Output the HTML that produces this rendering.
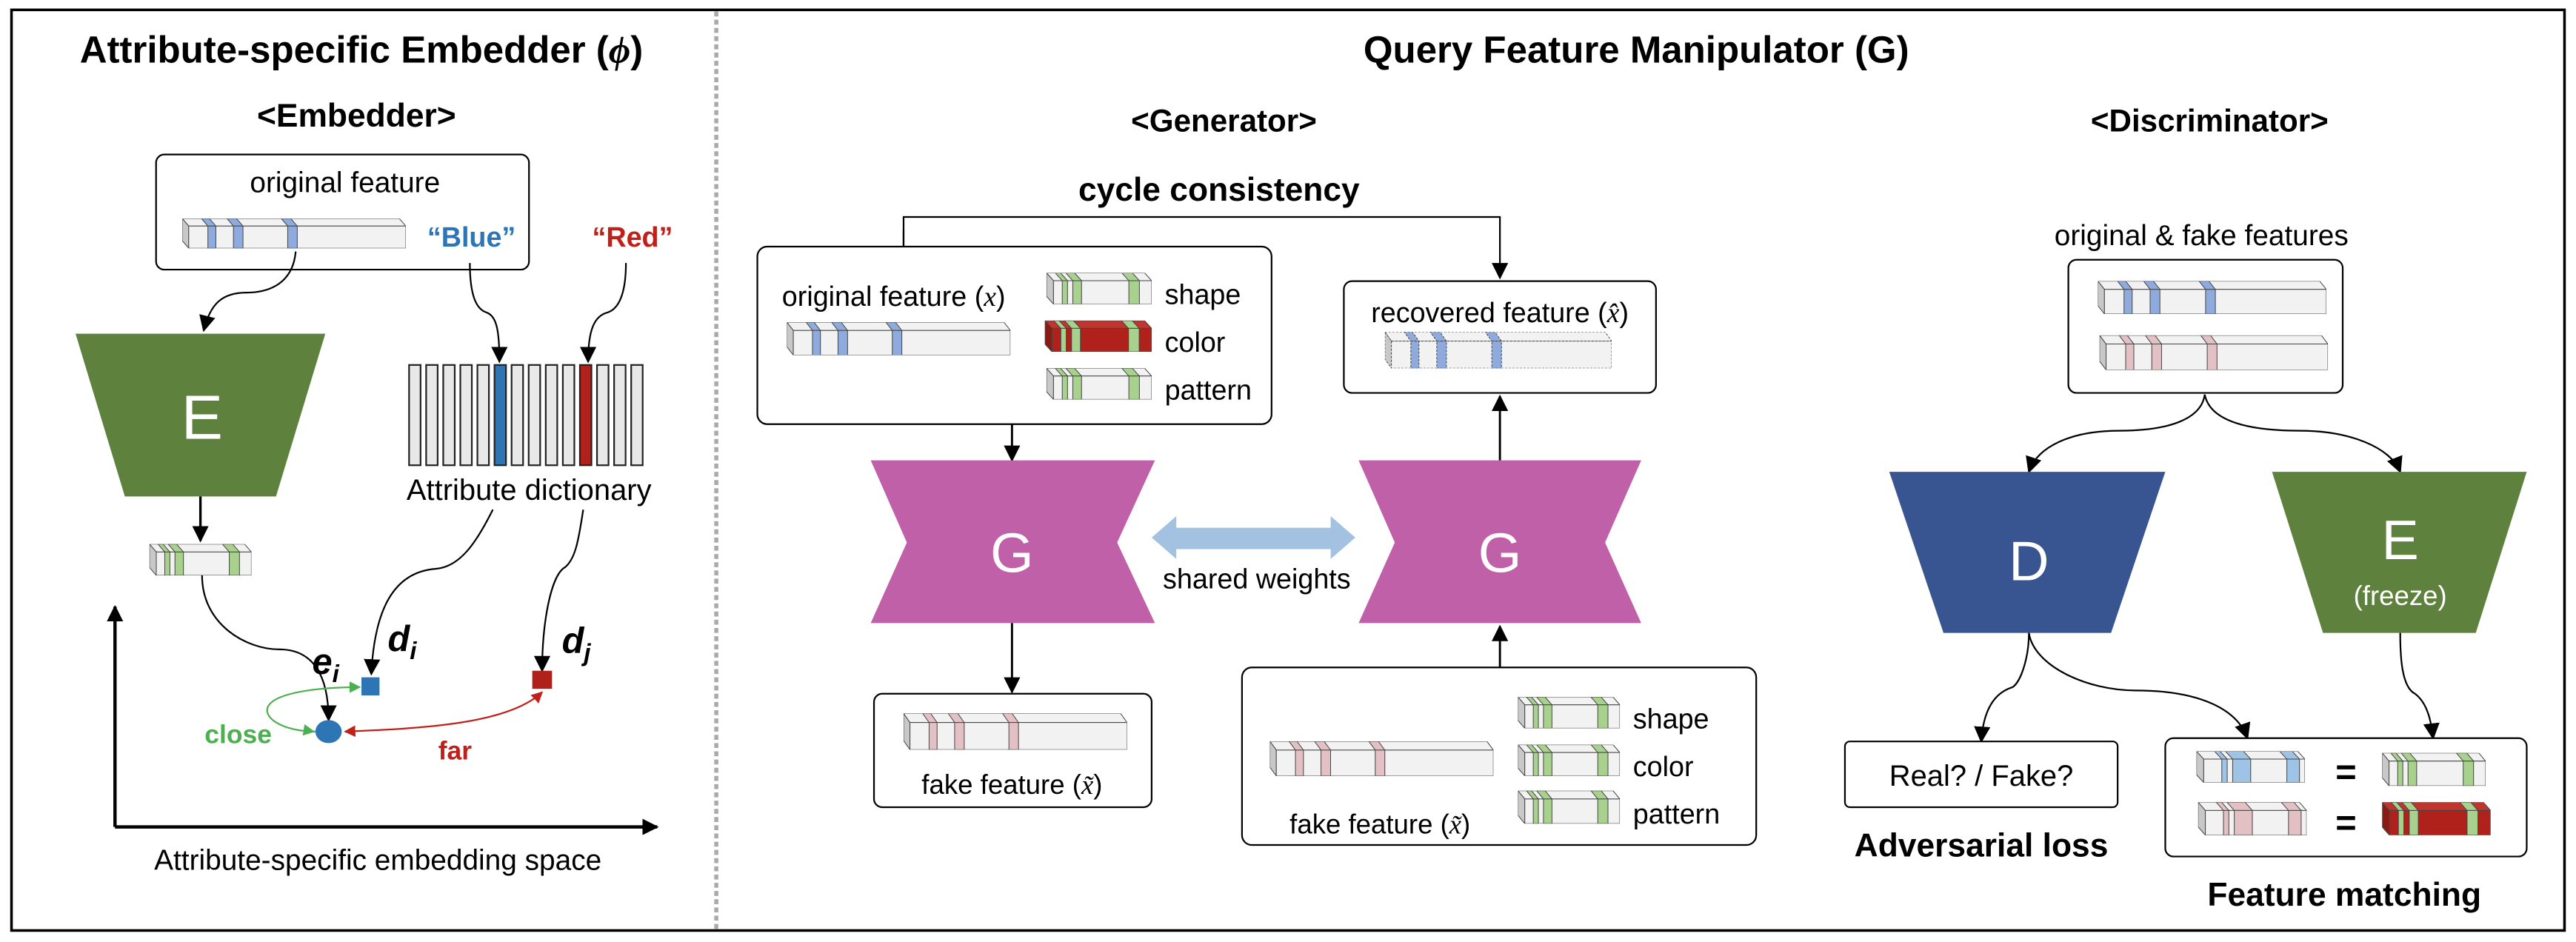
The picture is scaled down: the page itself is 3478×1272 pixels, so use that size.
<!DOCTYPE html>
<html><head><meta charset="utf-8"><style>
html,body{margin:0;padding:0;background:#fff;}
svg{display:block;}
text{font-family:"Liberation Sans",sans-serif;}
</style></head><body>
<svg width="3478" height="1272" viewBox="0 0 1568 573" preserveAspectRatio="none" xmlns="http://www.w3.org/2000/svg">
<defs>
<marker id="ar" viewBox="0 0 10 10" refX="9" refY="5" markerWidth="10" markerHeight="10" markerUnits="userSpaceOnUse" orient="auto"><path d="M0,0 L10,5 L0,10 z" fill="#000"/></marker>
<marker id="arG" viewBox="0 0 10 10" refX="9" refY="5" markerWidth="7" markerHeight="7" markerUnits="userSpaceOnUse" orient="auto"><path d="M0,0 L10,5 L0,10 z" fill="#4caf50"/></marker>
<marker id="arR" viewBox="0 0 10 10" refX="9" refY="5" markerWidth="7" markerHeight="7" markerUnits="userSpaceOnUse" orient="auto-start-reverse"><path d="M0,0 L10,5 L0,10 z" fill="#c0201a"/></marker>

<symbol id="bb" viewBox="0 0 140 20" preserveAspectRatio="none">
<g stroke="#444" stroke-width="1">
<polygon points="0,0 136,0 140,5 4,5" fill="#f2f2f2" vector-effect="non-scaling-stroke"/>
<polygon points="0,0 4,5 4,20 0,15" fill="#c8c8c8" vector-effect="non-scaling-stroke"/>
<rect x="4" y="5" width="136" height="15" fill="#f2f2f2" vector-effect="non-scaling-stroke"/>
<polygon points="12,0 17,0 21,5 16,5" fill="#8faadc" vector-effect="non-scaling-stroke"/><rect x="16" y="5" width="5" height="15" fill="#8faadc" vector-effect="non-scaling-stroke"/>
<polygon points="28,0 34,0 38,5 32,5" fill="#8faadc" vector-effect="non-scaling-stroke"/><rect x="32" y="5" width="6" height="15" fill="#8faadc" vector-effect="non-scaling-stroke"/>
<polygon points="62,0 68,0 72,5 66,5" fill="#8faadc" vector-effect="non-scaling-stroke"/><rect x="66" y="5" width="6" height="15" fill="#8faadc" vector-effect="non-scaling-stroke"/>
</g></symbol>
<symbol id="bp" viewBox="0 0 140 20" preserveAspectRatio="none">
<g stroke="#444" stroke-width="1">
<polygon points="0,0 136,0 140,5 4,5" fill="#f2f2f2" vector-effect="non-scaling-stroke"/>
<polygon points="0,0 4,5 4,20 0,15" fill="#c8c8c8" vector-effect="non-scaling-stroke"/>
<rect x="4" y="5" width="136" height="15" fill="#f2f2f2" vector-effect="non-scaling-stroke"/>
<polygon points="12,0 17,0 21,5 16,5" fill="#e2c0c4" vector-effect="non-scaling-stroke"/><rect x="16" y="5" width="5" height="15" fill="#e2c0c4" vector-effect="non-scaling-stroke"/>
<polygon points="28,0 34,0 38,5 32,5" fill="#e2c0c4" vector-effect="non-scaling-stroke"/><rect x="32" y="5" width="6" height="15" fill="#e2c0c4" vector-effect="non-scaling-stroke"/>
<polygon points="62,0 68,0 72,5 66,5" fill="#e2c0c4" vector-effect="non-scaling-stroke"/><rect x="66" y="5" width="6" height="15" fill="#e2c0c4" vector-effect="non-scaling-stroke"/>
</g></symbol>
<symbol id="bd" viewBox="0 0 140 20" preserveAspectRatio="none">
<g stroke="#444" stroke-width="1" stroke-dasharray="3,2">
<polygon points="0,0 136,0 140,5 4,5" fill="#f2f2f2" vector-effect="non-scaling-stroke"/>
<polygon points="0,0 4,5 4,20 0,15" fill="#c8c8c8" vector-effect="non-scaling-stroke"/>
<rect x="4" y="5" width="136" height="15" fill="#f2f2f2" vector-effect="non-scaling-stroke"/>
<polygon points="12,0 17,0 21,5 16,5" fill="#8faadc" vector-effect="non-scaling-stroke"/><rect x="16" y="5" width="5" height="15" fill="#8faadc" vector-effect="non-scaling-stroke"/>
<polygon points="28,0 34,0 38,5 32,5" fill="#8faadc" vector-effect="non-scaling-stroke"/><rect x="32" y="5" width="6" height="15" fill="#8faadc" vector-effect="non-scaling-stroke"/>
<polygon points="62,0 68,0 72,5 66,5" fill="#8faadc" vector-effect="non-scaling-stroke"/><rect x="66" y="5" width="6" height="15" fill="#8faadc" vector-effect="non-scaling-stroke"/>
</g></symbol>
<symbol id="sg" viewBox="0 0 60 20" preserveAspectRatio="none">
<g stroke="#444" stroke-width="1">
<polygon points="0,0 56,0 60,5 4,5" fill="#f2f2f2" vector-effect="non-scaling-stroke"/>
<polygon points="0,0 4,5 4,20 0,15" fill="#c8c8c8" vector-effect="non-scaling-stroke"/>
<rect x="4" y="5" width="56" height="15" fill="#f2f2f2" vector-effect="non-scaling-stroke"/>
<polygon points="5,0 8,0 12,5 9,5" fill="#a9d18e" vector-effect="non-scaling-stroke"/><rect x="9" y="5" width="3" height="15" fill="#a9d18e" vector-effect="non-scaling-stroke"/>
<polygon points="11,0 16,0 20,5 15,5" fill="#a9d18e" vector-effect="non-scaling-stroke"/><rect x="15" y="5" width="5" height="15" fill="#a9d18e" vector-effect="non-scaling-stroke"/>
<polygon points="43,0 49,0 53,5 47,5" fill="#a9d18e" vector-effect="non-scaling-stroke"/><rect x="47" y="5" width="6" height="15" fill="#a9d18e" vector-effect="non-scaling-stroke"/>
</g></symbol>
<symbol id="sr" viewBox="0 0 60 20" preserveAspectRatio="none">
<g stroke="#444" stroke-width="1">
<polygon points="0,0 56,0 60,5 4,5" fill="#c0362f" vector-effect="non-scaling-stroke"/>
<polygon points="0,0 4,5 4,20 0,15" fill="#8a1a14" vector-effect="non-scaling-stroke"/>
<rect x="4" y="5" width="56" height="15" fill="#b0211c" vector-effect="non-scaling-stroke"/>
<polygon points="5,0 8,0 12,5 9,5" fill="#a9d18e" vector-effect="non-scaling-stroke"/><rect x="9" y="5" width="3" height="15" fill="#a9d18e" vector-effect="non-scaling-stroke"/>
<polygon points="11,0 16,0 20,5 15,5" fill="#a9d18e" vector-effect="non-scaling-stroke"/><rect x="15" y="5" width="5" height="15" fill="#a9d18e" vector-effect="non-scaling-stroke"/>
<polygon points="43,0 49,0 53,5 47,5" fill="#a9d18e" vector-effect="non-scaling-stroke"/><rect x="47" y="5" width="6" height="15" fill="#a9d18e" vector-effect="non-scaling-stroke"/>
</g></symbol>
<symbol id="sb" viewBox="0 0 60 20" preserveAspectRatio="none">
<g stroke="#444" stroke-width="1">
<polygon points="0,0 56,0 60,5 4,5" fill="#f2f2f2" vector-effect="non-scaling-stroke"/>
<polygon points="0,0 4,5 4,20 0,15" fill="#c8c8c8" vector-effect="non-scaling-stroke"/>
<rect x="4" y="5" width="56" height="15" fill="#f2f2f2" vector-effect="non-scaling-stroke"/>
<polygon points="10,0 13,0 17,5 14,5" fill="#9dc3e6" vector-effect="non-scaling-stroke"/><rect x="14" y="5" width="3" height="15" fill="#9dc3e6" vector-effect="non-scaling-stroke"/>
<polygon points="16,0 26,0 30,5 20,5" fill="#9dc3e6" vector-effect="non-scaling-stroke"/><rect x="20" y="5" width="10" height="15" fill="#9dc3e6" vector-effect="non-scaling-stroke"/>
<polygon points="46,0 53,0 57,5 50,5" fill="#9dc3e6" vector-effect="non-scaling-stroke"/><rect x="50" y="5" width="7" height="15" fill="#9dc3e6" vector-effect="non-scaling-stroke"/>
</g></symbol>
<symbol id="sp" viewBox="0 0 60 20" preserveAspectRatio="none">
<g stroke="#444" stroke-width="1">
<polygon points="0,0 56,0 60,5 4,5" fill="#f2f2f2" vector-effect="non-scaling-stroke"/>
<polygon points="0,0 4,5 4,20 0,15" fill="#c8c8c8" vector-effect="non-scaling-stroke"/>
<rect x="4" y="5" width="56" height="15" fill="#f2f2f2" vector-effect="non-scaling-stroke"/>
<polygon points="10,0 13,0 17,5 14,5" fill="#e2c0c4" vector-effect="non-scaling-stroke"/><rect x="14" y="5" width="3" height="15" fill="#e2c0c4" vector-effect="non-scaling-stroke"/>
<polygon points="16,0 26,0 30,5 20,5" fill="#e2c0c4" vector-effect="non-scaling-stroke"/><rect x="20" y="5" width="10" height="15" fill="#e2c0c4" vector-effect="non-scaling-stroke"/>
<polygon points="46,0 53,0 57,5 50,5" fill="#e2c0c4" vector-effect="non-scaling-stroke"/><rect x="50" y="5" width="7" height="15" fill="#e2c0c4" vector-effect="non-scaling-stroke"/>
</g></symbol>
</defs>

<rect x="7" y="6" width="1554" height="560" fill="#fff" stroke="#000" stroke-width="1.6"/>
<line x1="436" y1="7" x2="436" y2="565" stroke="#aaa" stroke-width="2.5" stroke-dasharray="3,2"/>

<!-- LEFT PANEL -->
<text x="220" y="38" font-size="23" font-weight="bold" text-anchor="middle">Attribute-specific Embedder (<tspan font-style="italic" font-family="Liberation Serif, serif">ϕ</tspan>)</text>
<text x="217" y="77" font-size="20" font-weight="bold" text-anchor="middle">&lt;Embedder&gt;</text>
<rect x="95" y="94" width="227" height="70" rx="5" fill="#fff" stroke="#000" stroke-width="1"/>
<text x="210" y="117" font-size="17.5" text-anchor="middle">original feature</text>
<use href="#bb" x="111" y="133" width="136" height="18"/>
<text x="287" y="150" font-size="17" font-weight="bold" fill="#2e75b6" text-anchor="middle">“Blue”</text>
<text x="385" y="150" font-size="17" font-weight="bold" fill="#c0201a" text-anchor="middle">“Red”</text>

<path d="M180,153 C178,175 160,178 150,178 C135,178 128,185 124,201" fill="none" stroke="#000" stroke-width="1" marker-end="url(#ar)"/>
<polygon points="46,203 198,203 168,302 76,302" fill="#5e813e"/>
<text x="123" y="267" font-size="38" fill="#fff" text-anchor="middle">E</text>

<path d="M286,160 C286,180 290,188 296,190 C302,192 304,200 304,220" fill="none" stroke="#000" stroke-width="1" marker-end="url(#ar)"/>
<path d="M381,160 C381,180 376,188 370,190 C362,192 358,200 358,220" fill="none" stroke="#000" stroke-width="1" marker-end="url(#ar)"/>
<g stroke="#222" stroke-width="1">
<rect x="249" y="222" width="7" height="61" fill="#e8e8e8"/>
<rect x="259.4" y="222" width="7" height="61" fill="#e8e8e8"/>
<rect x="269.8" y="222" width="7" height="61" fill="#e8e8e8"/>
<rect x="280.2" y="222" width="7" height="61" fill="#e8e8e8"/>
<rect x="290.6" y="222" width="7" height="61" fill="#e8e8e8"/>
<rect x="301" y="222" width="7" height="61" fill="#2e75b6"/>
<rect x="311.4" y="222" width="7" height="61" fill="#e8e8e8"/>
<rect x="321.8" y="222" width="7" height="61" fill="#e8e8e8"/>
<rect x="332.2" y="222" width="7" height="61" fill="#e8e8e8"/>
<rect x="342.6" y="222" width="7" height="61" fill="#e8e8e8"/>
<rect x="353" y="222" width="7" height="61" fill="#b0211c"/>
<rect x="363.4" y="222" width="7" height="61" fill="#e8e8e8"/>
<rect x="373.8" y="222" width="7" height="61" fill="#e8e8e8"/>
<rect x="384.2" y="222" width="7" height="61" fill="#e8e8e8"/>
</g>
<text x="322" y="304" font-size="18" text-anchor="middle">Attribute dictionary</text>

<line x1="122" y1="302" x2="122" y2="329" stroke="#000" stroke-width="1.5" marker-end="url(#ar)"/>
<use href="#sg" x="91" y="331" width="62" height="19"/>

<path d="M123,350 C123,380 150,395 170,395 C190,395 200,410 200,438" fill="none" stroke="#000" stroke-width="1" marker-end="url(#ar)"/>
<path d="M300,310 C290,330 280,345 265,346 C240,348 228,370 226,410" fill="none" stroke="#000" stroke-width="1" marker-end="url(#ar)"/>
<path d="M355,310 C352,330 350,340 344,345 C335,350 330,380 330,408" fill="none" stroke="#000" stroke-width="1" marker-end="url(#ar)"/>

<text x="190" y="410" font-size="22" font-style="italic" font-family="Liberation Serif, serif" font-weight="bold">e<tspan font-size="15" dy="5">i</tspan></text>
<text x="236" y="396" font-size="22" font-style="italic" font-family="Liberation Serif, serif" font-weight="bold">d<tspan font-size="15" dy="5">i</tspan></text>
<text x="342" y="397" font-size="22" font-style="italic" font-family="Liberation Serif, serif" font-weight="bold">d<tspan font-size="15" dy="5">j</tspan></text>

<rect x="220" y="412" width="11" height="11" fill="#2e75b6"/>
<rect x="324" y="408" width="12" height="11" fill="#b0211c"/>
<ellipse cx="200" cy="445" rx="8" ry="7" fill="#2e75b6"/>
<path d="M192,445 C175,445 160,438 163,430 C168,420 200,418 219,418" fill="none" stroke="#4caf50" stroke-width="1" marker-end="url(#arG)"/>
<line x1="185" y1="444" x2="191" y2="445" stroke="#4caf50" stroke-width="1" marker-end="url(#arG)"/>
<path d="M210,445 C260,443 310,440 330,421" fill="none" stroke="#c0201a" stroke-width="1" marker-start="url(#arR)" marker-end="url(#arR)"/>
<text x="145" y="452" font-size="16" font-weight="bold" fill="#4caf50" text-anchor="middle">close</text>
<text x="277" y="462" font-size="16" font-weight="bold" fill="#c0201a" text-anchor="middle">far</text>

<line x1="70" y1="503" x2="70" y2="369" stroke="#000" stroke-width="2" marker-end="url(#ar)"/>
<line x1="70" y1="503" x2="400" y2="503" stroke="#000" stroke-width="2" marker-end="url(#ar)"/>
<text x="230" y="529" font-size="17.5" text-anchor="middle">Attribute-specific embedding space</text>

<!-- MIDDLE/RIGHT -->
<text x="996" y="38" font-size="23" font-weight="bold" text-anchor="middle">Query Feature Manipulator (G)</text>
<text x="745" y="80" font-size="19" font-weight="bold" text-anchor="middle">&lt;Generator&gt;</text>
<text x="1345" y="80" font-size="19" font-weight="bold" text-anchor="middle">&lt;Discriminator&gt;</text>
<text x="742" y="122" font-size="20" font-weight="bold" text-anchor="middle">cycle consistency</text>

<path d="M550,162 L550,132 L913,132 L913,169" fill="none" stroke="#000" stroke-width="1" marker-end="url(#ar)"/>
<line x1="550" y1="140" x2="550" y2="162" stroke="#000" stroke-width="1" marker-end="url(#ar)"/>

<rect x="461" y="150" width="313" height="108" rx="6" fill="#fff" stroke="#000" stroke-width="1"/>
<text x="476" y="186" font-size="17">original feature (<tspan font-style="italic" font-family="Liberation Serif, serif">x</tspan>)</text>
<use href="#bb" x="479" y="196" width="136" height="20"/>
<use href="#sg" x="637" y="166" width="64" height="19"/>
<use href="#sr" x="636" y="195" width="65" height="19"/>
<use href="#sg" x="637" y="224" width="64" height="19"/>
<text x="709" y="185" font-size="17">shape</text>
<text x="709" y="214" font-size="17">color</text>
<text x="709" y="243" font-size="17">pattern</text>

<rect x="818" y="171" width="190" height="68" rx="5" fill="#fff" stroke="#000" stroke-width="1"/>
<text x="913" y="196" font-size="17" text-anchor="middle">recovered feature (<tspan font-style="italic" font-family="Liberation Serif, serif">x̂</tspan>)</text>
<use href="#bd" x="843" y="202" width="138" height="22"/>

<line x1="616" y1="258" x2="616" y2="280" stroke="#000" stroke-width="1.3" marker-end="url(#ar)"/>
<polygon points="530,280 703,280 680,330 703,379 530,379 552,330" fill="#c060a8"/>
<text x="616" y="348" font-size="34" fill="#fff" text-anchor="middle">G</text>
<polygon points="827,280 999,280 977,330 999,379 827,379 849,330" fill="#c060a8"/>
<text x="913" y="348" font-size="34" fill="#fff" text-anchor="middle">G</text>
<line x1="913" y1="280" x2="913" y2="241" stroke="#000" stroke-width="1.3" marker-end="url(#ar)"/>

<polygon points="701,327 716,314 716,321 810,321 810,314 825,327 810,340 810,334 716,334 716,340" fill="#a3c2e2"/>
<text x="765" y="358" font-size="17" text-anchor="middle">shared weights</text>

<line x1="616" y1="379" x2="616" y2="421" stroke="#000" stroke-width="1.3" marker-end="url(#ar)"/>
<rect x="532" y="422" width="169" height="69" rx="5" fill="#fff" stroke="#000" stroke-width="1"/>
<use href="#bp" x="550" y="434" width="136" height="22"/>
<text x="616" y="483" font-size="16.5" text-anchor="middle">fake feature (<tspan font-style="italic" font-family="Liberation Serif, serif">x̃</tspan>)</text>

<line x1="913" y1="406" x2="913" y2="381" stroke="#000" stroke-width="1.3" marker-end="url(#ar)"/>
<rect x="756" y="406" width="313" height="108" rx="6" fill="#fff" stroke="#000" stroke-width="1"/>
<use href="#bp" x="773" y="451" width="136" height="21"/>
<text x="840" y="507" font-size="16.5" text-anchor="middle">fake feature (<tspan font-style="italic" font-family="Liberation Serif, serif">x̃</tspan>)</text>
<use href="#sg" x="924" y="424" width="62" height="19"/>
<use href="#sg" x="924" y="453" width="62" height="19"/>
<use href="#sg" x="924" y="481" width="62" height="20"/>
<text x="994" y="443" font-size="17">shape</text>
<text x="994" y="472" font-size="17">color</text>
<text x="994" y="501" font-size="17">pattern</text>

<!-- Discriminator -->
<text x="1340" y="149" font-size="17.5" text-anchor="middle">original &amp; fake features</text>
<rect x="1259" y="158" width="167" height="81" rx="5" fill="#fff" stroke="#000" stroke-width="1"/>
<use href="#bb" x="1277" y="171" width="139" height="20"/>
<use href="#bp" x="1278" y="204" width="139" height="21"/>
<path d="M1342,240 C1340,255 1320,262 1290,262 C1260,262 1240,272 1235,287" fill="none" stroke="#000" stroke-width="1" marker-end="url(#ar)"/>
<path d="M1342,240 C1345,255 1365,262 1400,262 C1430,262 1455,272 1461,287" fill="none" stroke="#000" stroke-width="1" marker-end="url(#ar)"/>

<polygon points="1150,287 1318,287 1285,385 1183,385" fill="#385591"/>
<text x="1235" y="353" font-size="34" fill="#fff" text-anchor="middle">D</text>
<polygon points="1383,287 1538,287 1507,385 1414,385" fill="#5e813e"/>
<text x="1461" y="340" font-size="34" fill="#fff" text-anchor="middle">E</text>
<text x="1461" y="368" font-size="16.5" fill="#fff" text-anchor="middle">(freeze)</text>

<path d="M1235,385 C1235,400 1230,415 1225,418 C1212,422 1207,435 1206,451" fill="none" stroke="#000" stroke-width="1" marker-end="url(#ar)"/>
<path d="M1235,385 C1238,405 1270,420 1300,420 C1340,420 1362,432 1368,449" fill="none" stroke="#000" stroke-width="1" marker-end="url(#ar)"/>
<path d="M1461,385 C1461,400 1462,418 1470,422 C1478,428 1480,440 1481,449" fill="none" stroke="#000" stroke-width="1" marker-end="url(#ar)"/>

<rect x="1123" y="451" width="166" height="40" rx="3" fill="#fff" stroke="#000" stroke-width="1"/>
<text x="1206" y="478" font-size="18" text-anchor="middle">Real? / Fake?</text>
<text x="1206" y="521" font-size="20" font-weight="bold" text-anchor="middle">Adversarial loss</text>

<rect x="1318" y="449" width="220" height="72" rx="5" fill="#fff" stroke="#000" stroke-width="1"/>
<use href="#sb" x="1337" y="457" width="66" height="19"/>
<use href="#sp" x="1338" y="488" width="66" height="20"/>
<text x="1428" y="477" font-size="22" font-weight="bold" text-anchor="middle">=</text>
<text x="1428" y="508" font-size="22" font-weight="bold" text-anchor="middle">=</text>
<use href="#sg" x="1450" y="458" width="63" height="20"/>
<use href="#sr" x="1450" y="488" width="66" height="20"/>
<text x="1427" y="551" font-size="20" font-weight="bold" text-anchor="middle">Feature matching</text>
</svg>
</body></html>
